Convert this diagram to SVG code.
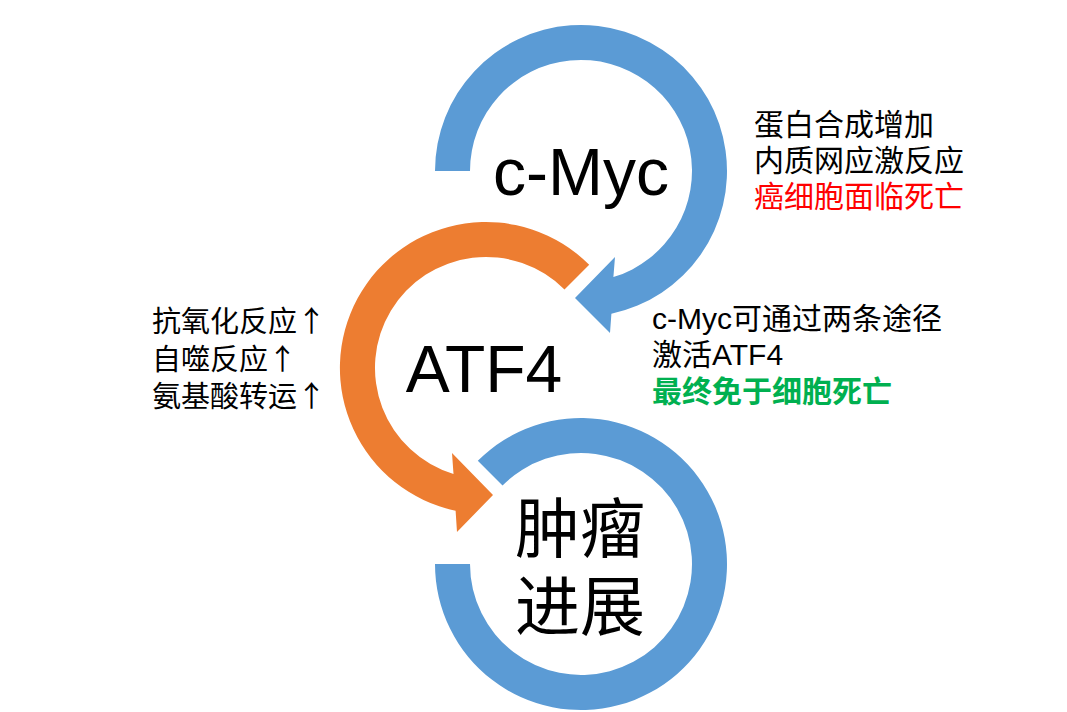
<svg xmlns="http://www.w3.org/2000/svg" width="1067" height="712" viewBox="0 0 1067 712">
<style>
.blue{fill:#5B9BD5}
.orange{fill:#ED7D31}
.big{font-family:"Liberation Sans","Noto Sans CJK SC",sans-serif;font-size:66px;fill:#000;text-anchor:middle}
.t{font-family:"Liberation Sans","Noto Sans CJK SC",sans-serif;font-size:30px;fill:#000}
.l{font-family:"Liberation Sans","Noto Sans CJK SC",sans-serif;font-size:29px;fill:#000}
.ar{font-family:"Noto Sans CJK SC",sans-serif;font-size:29px}
</style>
<rect width="1067" height="712" fill="#fff"/>
<g id="connectors">
<path class="blue" d="M435,171 A146,146 0 1 1 611.4,313.8 L610,333 L575,298 L615,257 L613.4,277.1 A111,111 0 1 0 470,171 Z"/>
<path class="orange" d="M589.2,264.8 A146,146 0 1 0 455.6,510.8 L457,532 L493,495 L452,453 L453.5,474.1 A111,111 0 1 1 564.5,289.5 Z"/>
<path class="blue" d="M477.8,460.8 A146,146 0 1 1 435,564 L470,564 A111,111 0 1 0 502.5,485.5 Z"/>
</g>
<g id="cmyc"><text class="big" x="581" y="195">c-Myc</text></g>
<g id="atf4"><text class="big" x="484" y="392">ATF4</text></g>
<g id="tumor">
<text class="big" x="580" y="552" style="font-size:65px">肿瘤</text>
<text class="big" x="580" y="630" style="font-size:65px">进展</text>
</g>
<g id="right-top">
<text class="t" x="754" y="135">蛋白合成增加</text>
<text class="t" x="754" y="171">内质网应激反应</text>
<text class="t" x="754" y="207" style="fill:#FF0000">癌细胞面临死亡</text>
</g>
<g id="right-bottom">
<text class="t" x="652" y="329">c-Myc可通过两条途径</text>
<text class="t" x="652" y="365">激活ATF4</text>
<text class="t" x="652" y="402" style="fill:#00B050;font-weight:bold">最终免于细胞死亡</text>
</g>
<g id="left">
<text class="l" x="152" y="332">抗氧化反应<tspan class="ar">↑</tspan></text>
<text class="l" x="152" y="370">自噬反应<tspan class="ar">↑</tspan></text>
<text class="l" x="152" y="407">氨基酸转运<tspan class="ar">↑</tspan></text>
</g>
</svg>
